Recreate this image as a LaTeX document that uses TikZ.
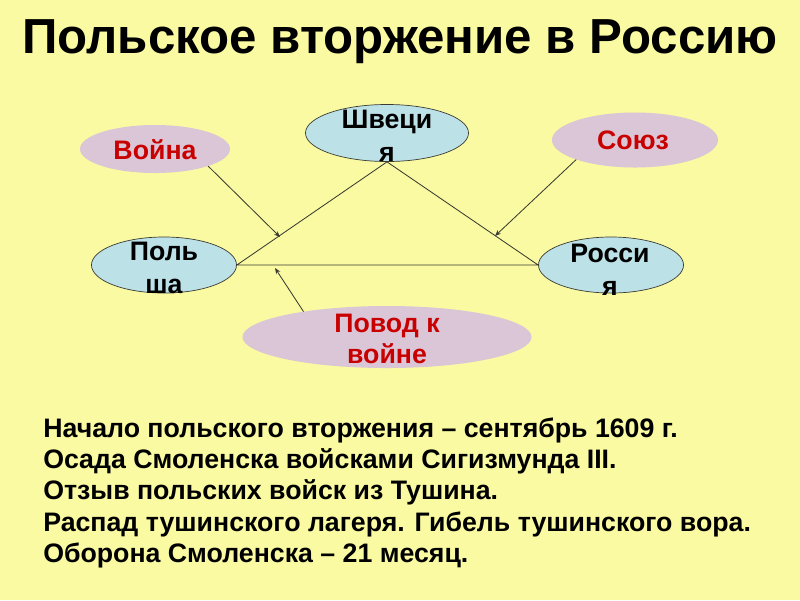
\documentclass[tikz,border=0pt]{standalone}
\usepackage{fontspec}
\setmainfont{Liberation Sans}
\usetikzlibrary{arrows.meta,shapes.geometric}
\definecolor{bgyellow}{RGB}{250,250,162}
\definecolor{landblue}{RGB}{188,226,232}
\definecolor{causepink}{RGB}{218,198,214}
\definecolor{causered}{RGB}{200,0,0}
\definecolor{edgegray}{RGB}{60,60,50}

\begin{document}
\begin{tikzpicture}[x=0.025cm,y=-0.025cm,>={Stealth[length=1.5mm,width=1.2mm]},line cap=round,
  land/.style={ellipse,draw=edgegray,line width=0.5pt,fill=landblue,inner sep=0pt},
  cause/.style={ellipse,fill=causepink,inner sep=0pt},
  landtxt/.style={align=center,inner sep=0pt,font=\fontsize{19}{23.5}\selectfont\bfseries},
  causetxt/.style={align=center,inner sep=0pt,text=causered,font=\fontsize{19}{21.5}\selectfont\bfseries},
  fact/.style={anchor=base west,inner sep=0pt,font=\fontsize{19}{22}\selectfont\bfseries},
  link/.style={edgegray,line width=0.6pt}]
\fill[bgyellow] (0,0) rectangle (800,600);
\node[anchor=base,inner sep=0pt,font=\fontsize{35}{40}\selectfont\bfseries] (title) at (400,53) {Польское вторжение в Россию};

\node[cause,minimum width=3.75cm,minimum height=1.2cm] (war) at (155,149) {};
\node[causetxt] (wartxt) at (155,150) {Война};
\node[land,minimum width=4.075cm,minimum height=1.425cm] (swe) at (387,133) {};
\node[landtxt] (swetxt) at (387,136) {Швеци\\я};
\node[cause,minimum width=4.15cm,minimum height=1.375cm] (union) at (635,140) {};
\node[causetxt] (uniontxt) at (633,140) {Союз};
\node[land,minimum width=3.625cm,minimum height=1.4cm] (pol) at (164,265) {};
\node[landtxt] (poltxt) at (164,268) {Поль\\ша};
\node[land,minimum width=3.625cm,minimum height=1.4cm] (rus) at (611,265) {};
\node[landtxt] (rustxt) at (610,270) {Росси\\я};
\node[cause,minimum width=7.225cm,minimum height=1.55cm] (cause) at (387,337) {};
\node[causetxt] (causetxt) at (387,339) {Повод к\\войне};

\draw[link] (pol.east) -- (swe.south) -- (rus.west) -- cycle;
\coordinate (warhit) at (280,237);
\coordinate (unionhit) at (495,236);
\coordinate (causehit) at (275,268);
\draw[link,->] (war.south east) -- (warhit);
\draw[link,->] (union.south west) -- (unionhit);
\draw[link,->] (cause.163) -- (causehit);

\node[fact] (fact1) at (43,437) {Начало польского вторжения – сентябрь 1609 г.};
\node[fact] (fact2) at (43,468) {Осада Смоленска войсками Сигизмунда III.};
\node[fact] (fact3) at (43,499) {Отзыв польских войск из Тушина.};
\node[fact] (fact4) at (43,531) {Распад тушинского лагеря. Гибель тушинского вора.};
\node[fact] (fact5) at (43,562) {Оборона Смоленска – 21 месяц.};
\end{tikzpicture}
\end{document}
